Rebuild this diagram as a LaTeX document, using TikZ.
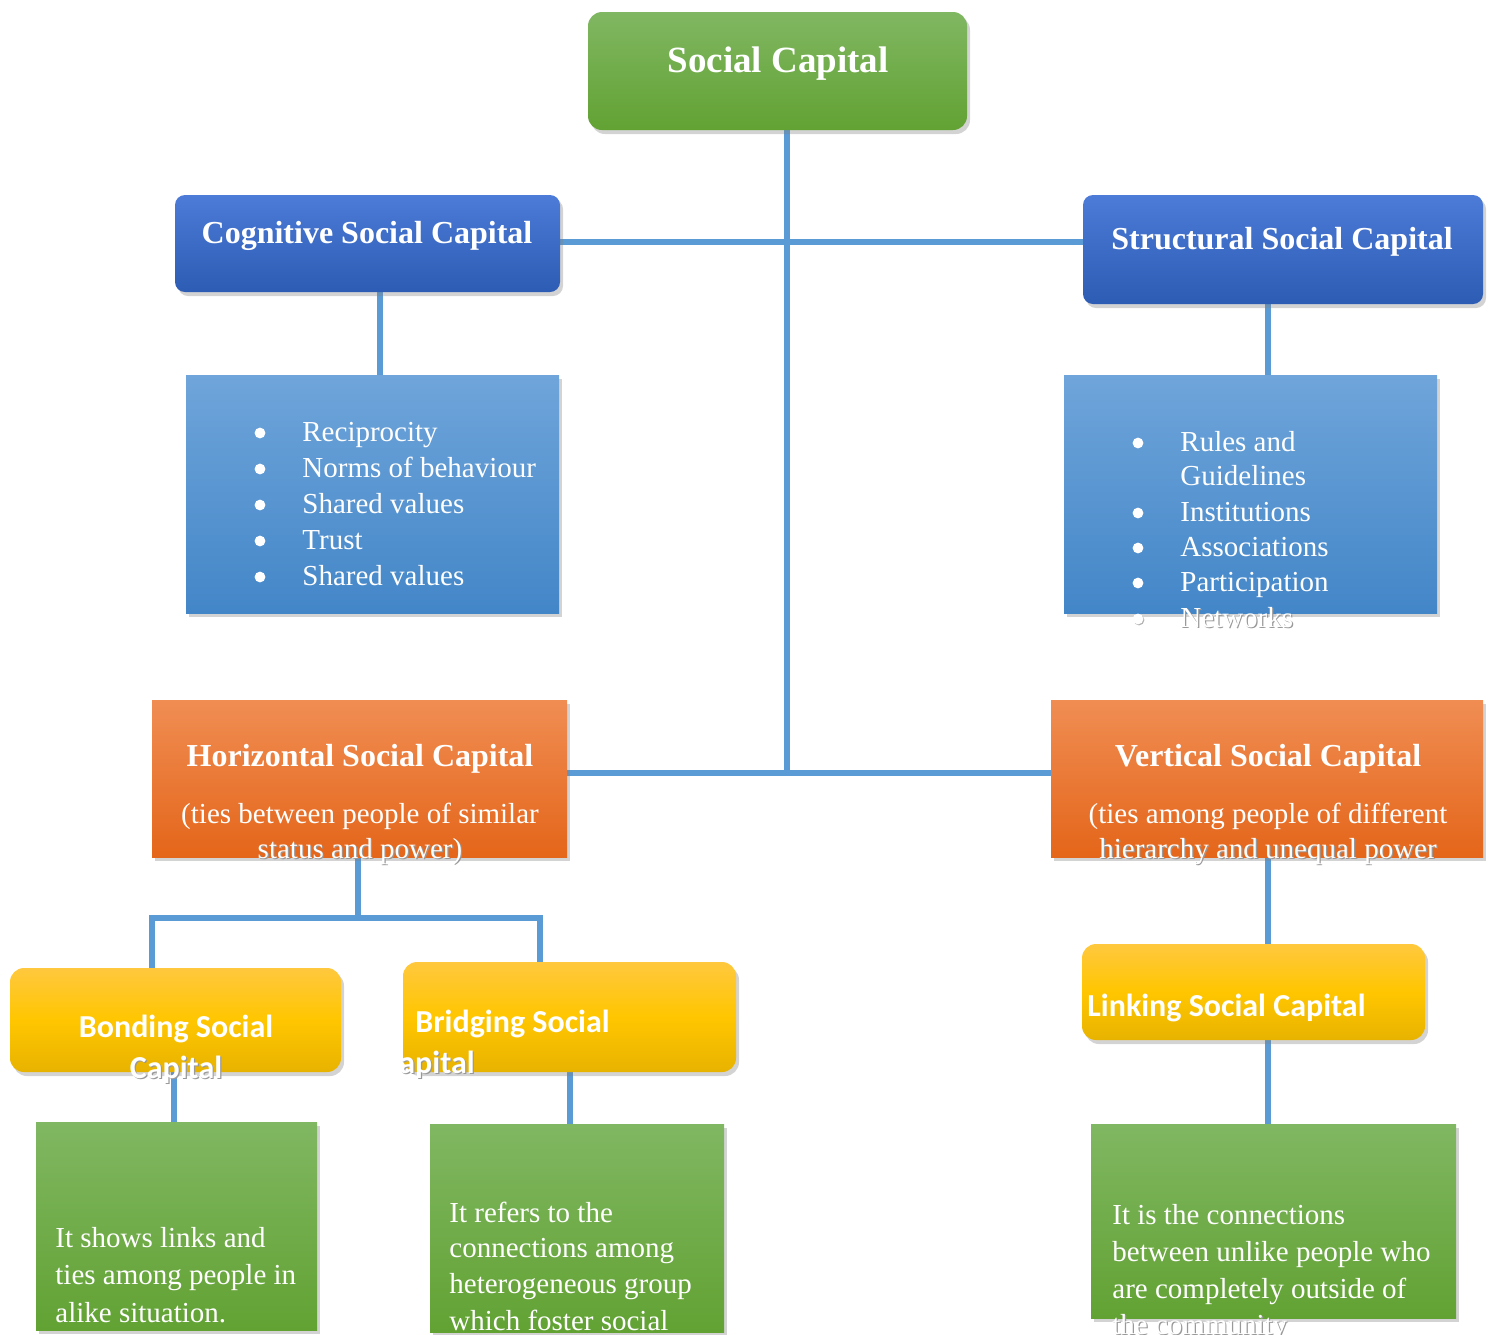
\documentclass[tikz,border=0pt]{standalone}
\usepackage{fontspec}
\setmainfont{Liberation Serif}
\newfontfamily\calfont{Carlito}
\usetikzlibrary{shadows}
\definecolor{conn}{HTML}{5B9BD5}
\definecolor{grT}{HTML}{80B762}
\definecolor{grB}{HTML}{62A233}
\definecolor{dbT}{HTML}{4C7BD8}
\definecolor{dbB}{HTML}{2D5CB4}
\definecolor{lbT}{HTML}{6FA5DA}
\definecolor{lbB}{HTML}{4386C8}
\definecolor{orT}{HTML}{F08D53}
\definecolor{orB}{HTML}{E4661A}
\definecolor{yeT}{HTML}{FFC83E}
\definecolor{yeM}{HTML}{FFC600}
\definecolor{yeB}{HTML}{E8B300}
\pgfdeclarelayer{bg}
\pgfsetlayers{bg,main}
\newcommand\ovtext[5]{%
  \node[#1,text=black!40] (#2s) at ({#3+1.2},{#4+1.6}) {#5};
  \node[#1,text=white] (#2) at (#3,#4) {#5};}
\begin{document}
\begin{tikzpicture}[x=0.5pt,y=-0.5pt,
  box/.style={draw=none, inner sep=0, drop shadow={shadow xshift=1.5pt,shadow yshift=-2pt,opacity=0.35}},
  gbox/.style={box, top color=grT, bottom color=grB},
  dbbox/.style={box, top color=dbT, bottom color=dbB, rounded corners=5pt},
  lbbox/.style={box, top color=lbT, bottom color=lbB},
  obox/.style={box, top color=orT, bottom color=orB},
  ybox/.style={box, top color=yeT, bottom color=yeB, middle color=yeM, rounded corners=7pt},
  link/.style={draw=conn, line width=3pt},
  bul/.style={circle, fill=white, inner sep=0, minimum size=5.4pt},
  reg/.style={font=\fontsize{14.5}{18}\selectfont, text=white, inner sep=0},
  ttl/.style={font=\bfseries\fontsize{16}{20}\selectfont, text=white, inner sep=0},
  cal/.style={font=\calfont\bfseries\fontsize{16}{19}\selectfont, text=white, inner sep=0}]
\useasboundingbox (0,0) rectangle (1491,1334);
\clip (0,0) rectangle (1491,1334);
% boxes
\node[gbox, rounded corners=7pt, minimum width=189.5pt, minimum height=59pt] (soc) at (777.5,71) {};
\node[dbbox, minimum width=192.5pt, minimum height=48.5pt] (cog) at (367.5,243.5) {};
\node[dbbox, minimum width=200pt, minimum height=54.5pt] (str) at (1283,249.5) {};
\node[lbbox, minimum width=186.5pt, minimum height=119pt] (cogl) at (372.5,494) {};
\node[lbbox, minimum width=186.5pt, minimum height=119pt] (strl) at (1250.5,494) {};
\node[obox, minimum width=207.5pt, minimum height=78.5pt] (hor) at (359.5,778.5) {};
\node[obox, minimum width=216pt, minimum height=78.5pt] (ver) at (1267,778.5) {};
\node[ybox, minimum width=165.5pt, minimum height=52pt] (bon) at (175.5,1020) {};
\node[ybox, minimum width=166.5pt, minimum height=55pt] (bri) at (569.5,1017) {};
\node[ybox, minimum width=171.5pt, minimum height=48pt] (lin) at (1253.5,992) {};
\node[gbox, minimum width=140.5pt, minimum height=104pt] (bond) at (176.5,1226) {};
\node[gbox, minimum width=147pt, minimum height=104pt] (brid) at (577,1228) {};
\node[gbox, minimum width=182.5pt, minimum height=97pt] (lind) at (1273.5,1221) {};
% connectors
\begin{pgfonlayer}{bg}
\coordinate (j1) at (787,242);
\coordinate (j2) at (787,773);
\draw[link] (soc.south -| j1) -- (j2);
\draw[link] (cog.east |- j1) -- (str.west |- j1);
\draw[link] (hor.east |- j2) -- (ver.west |- j2);
\coordinate (c1) at (380,0);
\draw[link] (cog.south -| c1) -- (cogl.north -| c1);
\coordinate (s1) at (1268,0);
\draw[link] (str.south -| s1) -- (strl.north -| s1);
\coordinate (h1) at (358,918);
\coordinate (b1) at (152,918);
\coordinate (b2) at (540,918);
\coordinate (b3) at (174,0);
\draw[link] (hor.south -| h1) -- (h1);
\draw[link] (bon.north -| b1) -- (b1) -- (b2) -- (b2 |- bri.north);
\draw[link] (bon.south -| b3) -- (bond.north -| b3);
\draw[link] (bri.south) -- (bri.south |- brid.north);
\draw[link] (ver.south -| s1) -- (lin.north -| s1);
\draw[link] (lin.south -| s1) -- (lind.north -| s1);
\end{pgfonlayer}
% titles
\node[ttl, font=\bfseries\fontsize{18.5}{22}\selectfont, anchor=base] (socT) at (778,72) {Social Capital};
\node[ttl, anchor=base] (cogT) at (367,243) {Cognitive Social Capital};
\node[ttl, anchor=base] (strT) at (1282,249) {Structural Social Capital};
\node[ttl, anchor=base] (horT) at (360,766) {Horizontal Social Capital};
\node[ttl, anchor=base] (verT) at (1268,766) {Vertical Social Capital};
% cognitive list
\node[bul] (cb1) at (260,433) {};
\node[reg, anchor=base west] (ct1) at (302,441) {Reciprocity};
\node[bul] (cb2) at (260,469) {};
\node[reg, anchor=base west] (ct2) at (302,477) {Norms of behaviour};
\node[bul] (cb3) at (260,505) {};
\node[reg, anchor=base west] (ct3) at (302,513) {Shared values};
\node[bul] (cb4) at (260,541) {};
\node[reg, anchor=base west] (ct4) at (302,549) {Trust};
\node[bul] (cb5) at (260,577) {};
\node[reg, anchor=base west] (ct5) at (302,585) {Shared values};
% structural list
\node[bul] (sb1) at (1138,443) {};
\node[reg, anchor=base west] (st1) at (1180,451) {Rules and};
\node[reg, anchor=base west] (st1b) at (1180,485) {Guidelines};
\node[bul] (sb2) at (1138,513) {};
\node[reg, anchor=base west] (st2) at (1180,521) {Institutions};
\node[bul] (sb3) at (1138,548) {};
\node[reg, anchor=base west] (st3) at (1180,556) {Associations};
\node[bul] (sb4) at (1138,583) {};
\node[reg, anchor=base west] (st4) at (1180,591) {Participation};
\node[bul, fill=black!30] (sb5s) at (1139,620) {};
\node[bul] (sb5) at (1138,619) {};
\ovtext{reg, anchor=base west}{st5}{1180}{627}{Networks}
% horizontal / vertical sub text
\node[reg, anchor=base] (horS1) at (360,823) {(ties between people of similar};
\ovtext{reg, anchor=base}{horS2}{360}{858}{status and power)}
\node[reg, anchor=base] (verS1) at (1268,823) {(ties among people of different};
\ovtext{reg, anchor=base}{verS2}{1268}{858}{hierarchy and unequal power}
% yellow titles
\node[cal, anchor=base] (bonT1) at (176,1037) {Bonding Social};
\ovtext{cal, anchor=base}{bonT2}{176}{1078}{Capital}
\node[cal, anchor=base west] (briT1) at (415,1032) {Bridging Social};
\ovtext{cal, anchor=base west}{briT2}{399}{1073}{apital}
\node[cal, anchor=base west] (linT) at (1087,1016) {Linking Social Capital};
% descriptions
\node[reg, anchor=base west] (bd1) at (55,1247) {It shows links and};
\node[reg, anchor=base west] (bd2) at (55,1284) {ties among people in};
\node[reg, anchor=base west] (bd3) at (55,1322) {alike situation.};
\node[reg, anchor=base west] (rd1) at (449,1222) {It refers to the};
\node[reg, anchor=base west] (rd2) at (449,1257) {connections among};
\node[reg, anchor=base west] (rd3) at (449,1293) {heterogeneous group};
\node[reg, anchor=base west] (rd4) at (449,1330) {which foster social};
\node[reg, anchor=base west] (ld1) at (1112,1224) {It is the connections};
\node[reg, anchor=base west] (ld2) at (1112,1261) {between unlike people who};
\node[reg, anchor=base west] (ld3) at (1112,1298) {are completely outside of};
\ovtext{reg, anchor=base west}{ld4}{1112}{1334}{the community}
\end{tikzpicture}
\end{document}
